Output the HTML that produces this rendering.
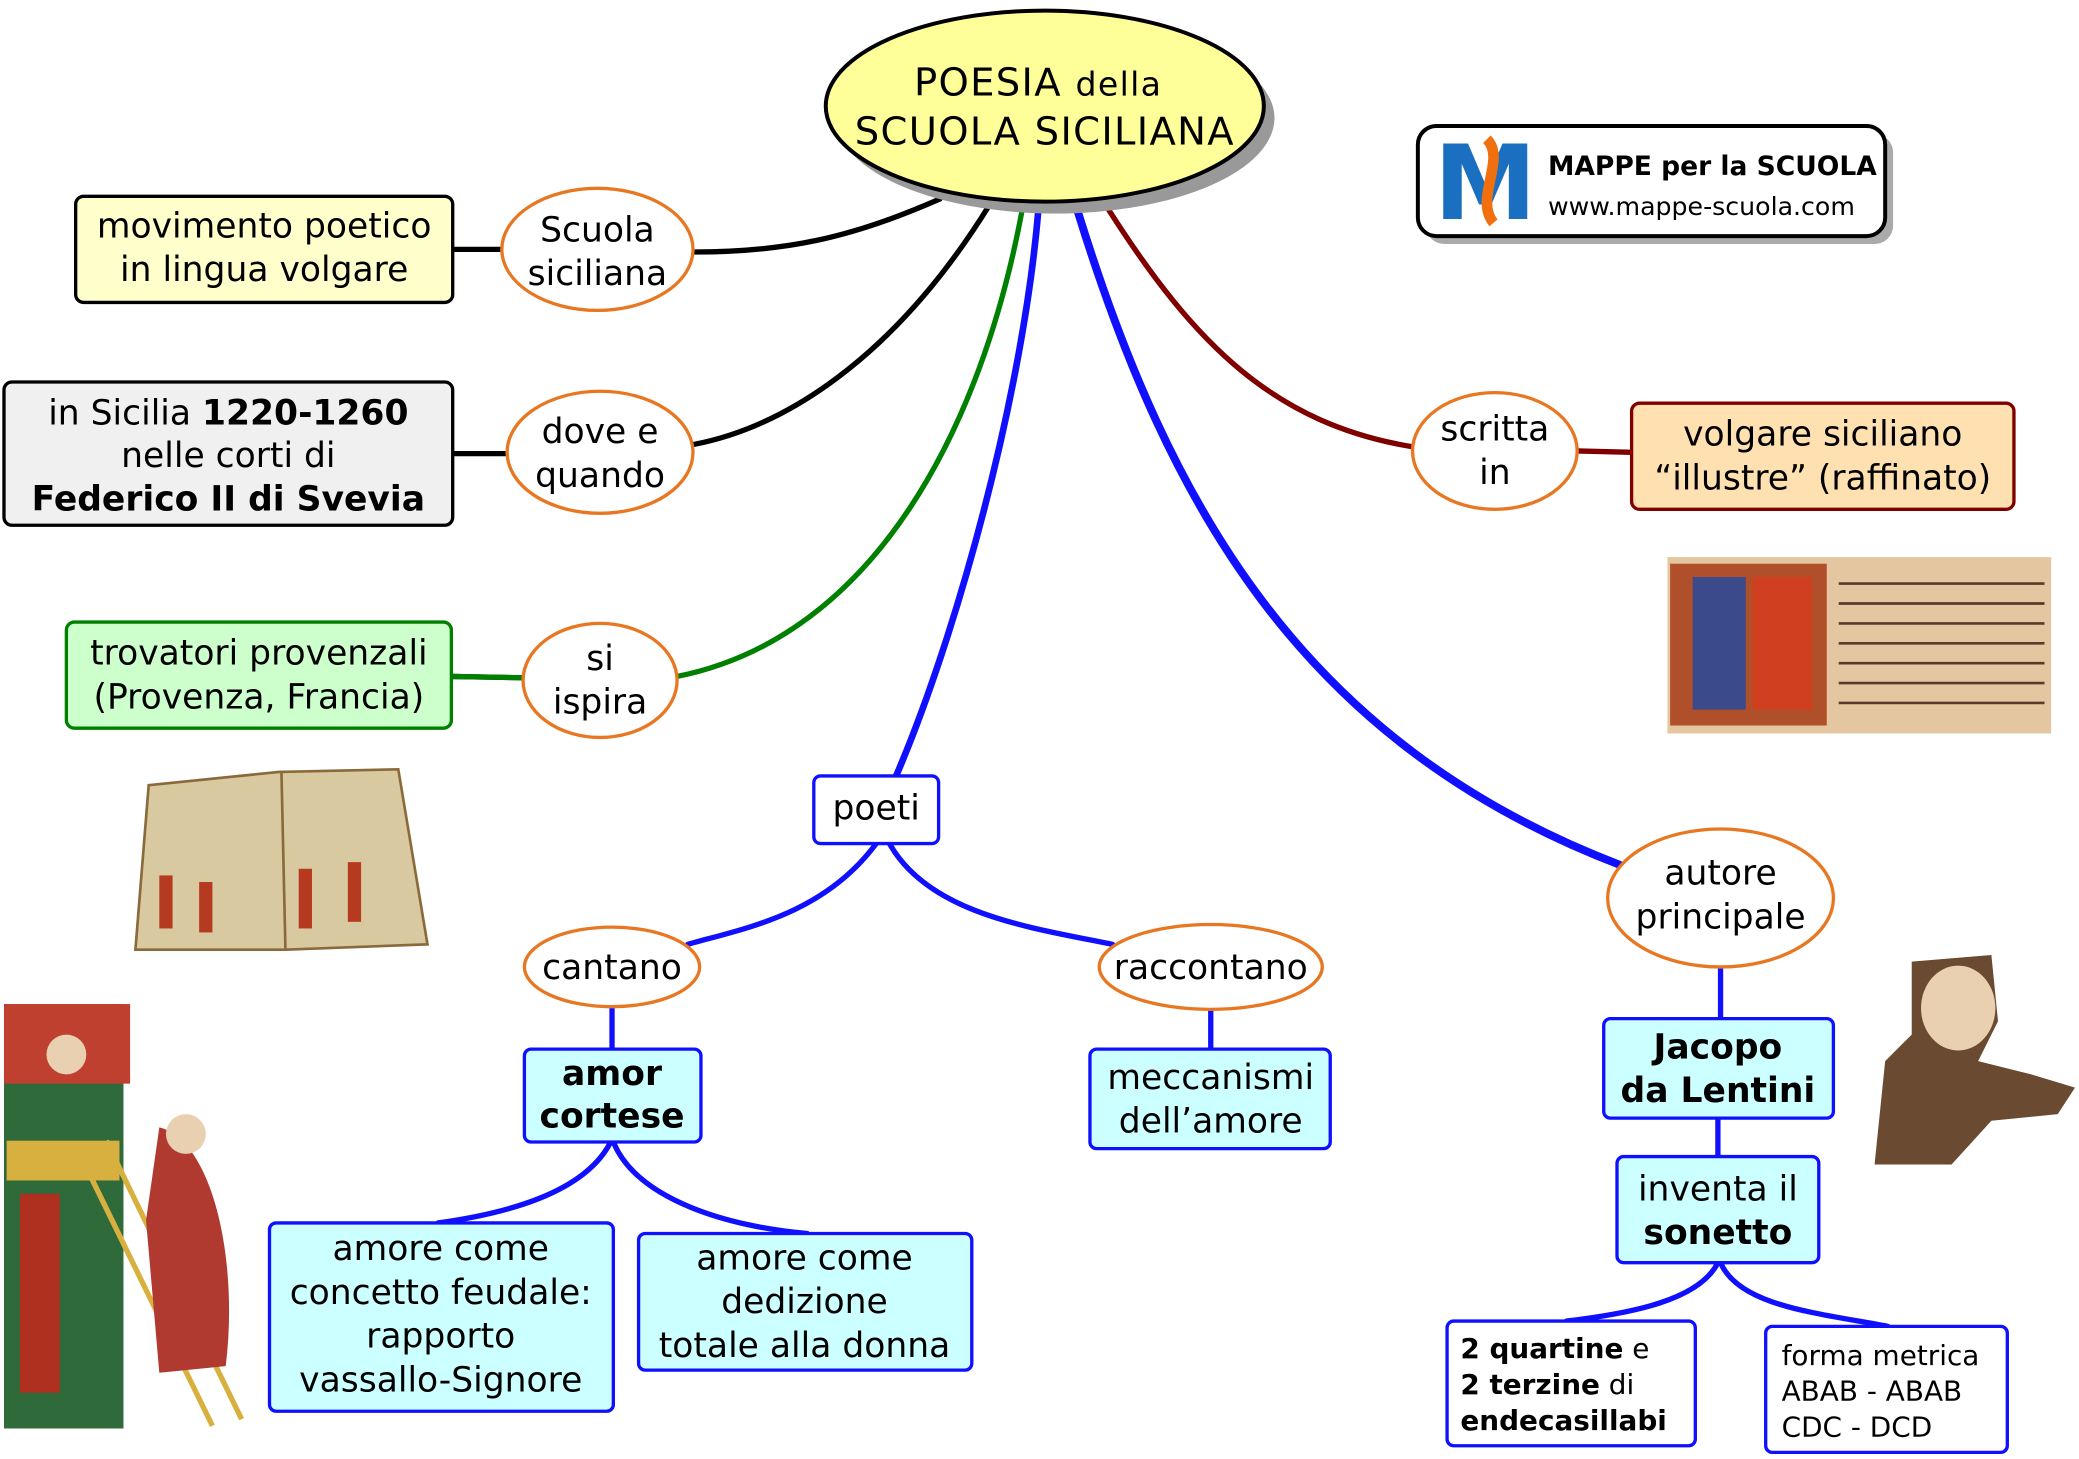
<!DOCTYPE html>
<html><head><meta charset="utf-8"><style>
html,body{margin:0;padding:0;background:#fff;}
svg{display:block;}
text{font-family:"DejaVu Sans","Liberation Sans",sans-serif;}
</style></head><body>
<svg width="2079" height="1459" viewBox="0 0 1566 1100" preserveAspectRatio="none" xmlns="http://www.w3.org/2000/svg">
<rect width="1566" height="1100" fill="#fff"/>
<!-- connectors -->
<g fill="none" stroke-linecap="round">
<path d="M708,150 C640,180 590,190 523,190" stroke="#000" stroke-width="4"/>
<path d="M745,155 C680,260 600,320 523,335" stroke="#000" stroke-width="4"/>
<path d="M770,158 C740,320 660,480 510,510" stroke="#008000" stroke-width="4"/>
<path d="M782,160 C770,300 720,480 675,585" stroke="#1010ff" stroke-width="5"/>
<path d="M812,160 C880,380 980,560 1220,652" stroke="#1010ff" stroke-width="6"/>
<path d="M835,158 C900,260 960,320 1065,337" stroke="#800000" stroke-width="4"/>
<path d="M341,188 L378,188 M341,342 L382,342 M340,510 L394,511" stroke="#000" stroke-width="4"/>
<path d="M340,510 L394,511" stroke="#008000" stroke-width="4"/>
<path d="M1188,340 L1229,341" stroke="#800000" stroke-width="4"/>
<path d="M660,636 C620,690 560,700 518,712" stroke="#1010ff" stroke-width="4"/>
<path d="M670,636 C700,690 780,700 838,712" stroke="#1010ff" stroke-width="4"/>
<path d="M461,760 L461,791 M912,761 L912,791 M1296,729 L1296,768 M1294,843 L1294,872" stroke="#1010ff" stroke-width="4"/>
<path d="M460,861 C440,900 380,915 330,922" stroke="#1010ff" stroke-width="4"/>
<path d="M462,861 C480,905 550,925 608,930" stroke="#1010ff" stroke-width="4"/>
<path d="M1294,952 C1280,980 1230,990 1180,996" stroke="#1010ff" stroke-width="4"/>
<path d="M1296,952 C1310,985 1370,990 1422,1000" stroke="#1010ff" stroke-width="4"/>
</g>
<!-- central -->
<ellipse cx="795" cy="89" rx="165" ry="72" fill="#999"/>
<ellipse cx="787" cy="80" rx="165" ry="72" fill="#ffff99" stroke="#000" stroke-width="3"/>
<text x="782" y="72" text-anchor="middle" font-size="29" letter-spacing="1">POESIA <tspan font-size="25">della</tspan></text>
<text x="787" y="109" text-anchor="middle" font-size="29" letter-spacing="1">SCUOLA SICILIANA</text>
<!-- logo -->
<rect x="1074" y="101" width="352" height="83" rx="14" fill="#aaa"/>
<rect x="1068" y="95" width="352" height="83" rx="14" fill="#fff" stroke="#000" stroke-width="3"/>
<text x="1080" y="165" font-size="78" font-weight="bold" fill="#1a6fc0" font-family="Liberation Sans">M</text>
<path d="M1120,105 C1135,120 1110,150 1125,168" stroke="#f07010" stroke-width="8" fill="none"/>
<text x="1166" y="132" font-size="20" font-weight="bold">MAPPE per la SCUOLA</text>
<text x="1166" y="162" font-size="19">www.mappe-scuola.com</text>
<!-- left boxes -->
<rect x="57" y="148" width="284" height="80" rx="6" fill="#ffffcc" stroke="#000" stroke-width="2.5"/>
<text x="199" y="179" text-anchor="middle" font-size="26">movimento poetico</text>
<text x="199" y="212" text-anchor="middle" font-size="26">in lingua volgare</text>
<rect x="3" y="288" width="338" height="108" rx="6" fill="#f0f0f0" stroke="#000" stroke-width="2.5"/>
<text x="172" y="320" text-anchor="middle" font-size="26">in Sicilia <tspan font-weight="bold">1220-1260</tspan></text>
<text x="172" y="352" text-anchor="middle" font-size="26">nelle corti di</text>
<text x="172" y="385" text-anchor="middle" font-size="26" font-weight="bold">Federico II di Svevia</text>
<rect x="50" y="469" width="290" height="80" rx="6" fill="#ccffcc" stroke="#008000" stroke-width="2.5"/>
<text x="195" y="501" text-anchor="middle" font-size="26">trovatori provenzali</text>
<text x="195" y="534" text-anchor="middle" font-size="26">(Provenza, Francia)</text>
<!-- ellipses -->
<g fill="#fff" stroke="#e87722" stroke-width="2.5">
<ellipse cx="450" cy="188" rx="72" ry="46"/>
<ellipse cx="452" cy="341" rx="70" ry="46"/>
<ellipse cx="452" cy="513" rx="58" ry="43"/>
<ellipse cx="461" cy="729" rx="66" ry="30"/>
<ellipse cx="912" cy="729" rx="84" ry="32"/>
<ellipse cx="1126" cy="340" rx="62" ry="44"/>
<ellipse cx="1296" cy="677" rx="85" ry="52"/>
</g>
<g font-size="26" text-anchor="middle">
<text x="450" y="182">Scuola</text><text x="450" y="215">siciliana</text>
<text x="452" y="334">dove e</text><text x="452" y="367">quando</text>
<text x="452" y="505">si</text><text x="452" y="538">ispira</text>
<text x="461" y="738">cantano</text>
<text x="912" y="738">raccontano</text>
<text x="1126" y="332">scritta</text><text x="1126" y="365">in</text>
<text x="1296" y="667">autore</text><text x="1296" y="700">principale</text>
</g>
<rect x="1229" y="304" width="288" height="80" rx="6" fill="#ffe0b0" stroke="#800000" stroke-width="2.5"/>
<text x="1373" y="336" text-anchor="middle" font-size="26">volgare siciliano</text>
<text x="1373" y="369" text-anchor="middle" font-size="26">“illustre” (raffinato)</text>
<!-- blue boxes -->
<rect x="613" y="585" width="94" height="51" rx="5" fill="#fff" stroke="#1010ff" stroke-width="2.5"/>
<text x="660" y="618" text-anchor="middle" font-size="26">poeti</text>
<g fill="#ccffff" stroke="#1010ff" stroke-width="2.5">
<rect x="395" y="791" width="133" height="70" rx="5"/>
<rect x="821" y="791" width="181" height="75" rx="5"/>
<rect x="203" y="922" width="259" height="142" rx="5"/>
<rect x="481" y="930" width="251" height="103" rx="5"/>
<rect x="1208" y="768" width="173" height="75" rx="5"/>
<rect x="1218" y="872" width="152" height="80" rx="5"/>
</g>
<g fill="#fff" stroke="#1010ff" stroke-width="2.5">
<rect x="1090" y="996" width="187" height="94" rx="5"/>
<rect x="1330" y="1000" width="182" height="95" rx="5"/>
</g>
<g font-size="26" text-anchor="middle">
<text x="461" y="818" font-weight="bold">amor</text><text x="461" y="850" font-weight="bold">cortese</text>
<text x="912" y="821">meccanismi</text><text x="912" y="854">dell’amore</text>
<text x="332" y="950">amore come</text><text x="332" y="983">concetto feudale:</text><text x="332" y="1016">rapporto</text><text x="332" y="1049">vassallo-Signore</text>
<text x="606" y="957">amore come</text><text x="606" y="990">dedizione</text><text x="606" y="1023">totale alla donna</text>
<text x="1294" y="798" font-weight="bold">Jacopo</text><text x="1294" y="831" font-weight="bold">da Lentini</text>
<text x="1294" y="905">inventa il</text><text x="1294" y="938" font-weight="bold">sonetto</text>
</g>
<g font-size="21">
<text x="1100" y="1024"><tspan font-weight="bold">2 quartine</tspan> e</text>
<text x="1100" y="1051"><tspan font-weight="bold">2 terzine</tspan> di</text>
<text x="1100" y="1078" font-weight="bold">endecasillabi</text>
<text x="1342" y="1029">forma metrica</text>
<text x="1342" y="1056">ABAB - ABAB</text>
<text x="1342" y="1083">CDC - DCD</text>
</g>
<!-- images (approximations) -->
<path d="M112,592 L210,582 L300,580 L322,712 L215,716 L102,716 Z" fill="#d9c9a0" stroke="#8a6a3a" stroke-width="2"/>
<path d="M212,582 L215,716" stroke="#8a6a3a" stroke-width="2"/>
<g fill="#b53a20"><rect x="120" y="660" width="10" height="40"/><rect x="150" y="665" width="10" height="38"/><rect x="225" y="655" width="10" height="45"/><rect x="262" y="650" width="10" height="45"/></g>
<rect x="1256" y="420" width="289" height="133" fill="#e4c7a0"/>
<rect x="1258" y="425" width="118" height="122" fill="#b0502a"/>
<rect x="1275" y="435" width="40" height="100" fill="#3a4a8a"/>
<rect x="1320" y="435" width="45" height="100" fill="#d04020"/>
<g stroke="#5a3a2a" stroke-width="2">
<path d="M1385,440 H1540 M1385,455 H1540 M1385,470 H1540 M1385,485 H1540 M1385,500 H1540 M1385,515 H1540 M1385,530 H1540"/>
</g>
<rect x="1412" y="720" width="151" height="158" fill="#fff"/>
<path d="M1440,725 L1500,720 L1505,770 L1490,800 L1530,810 L1563,820 L1550,840 L1500,845 L1470,878 L1412,878 L1420,800 L1440,780 Z" fill="#6a4a30"/>
<ellipse cx="1475" cy="760" rx="28" ry="32" fill="#e8d0b0"/>
<rect x="3" y="757" width="90" height="320" fill="#2f6a3a"/>
<rect x="3" y="757" width="95" height="60" fill="#c04030"/>
<rect x="15" y="900" width="30" height="150" fill="#b03020"/>
<rect x="5" y="860" width="85" height="30" fill="#d8b040"/>
<path d="M60,870 L160,1075 M80,860 L182,1070" stroke="#d8b040" stroke-width="4"/>
<path d="M120,850 C160,860 180,950 170,1030 L120,1035 L110,920 Z" fill="#b03a30"/>
<circle cx="140" cy="855" r="15" fill="#e8d0b0"/>
<circle cx="50" cy="795" r="15" fill="#e8d0b0"/>
</svg>
</body></html>
